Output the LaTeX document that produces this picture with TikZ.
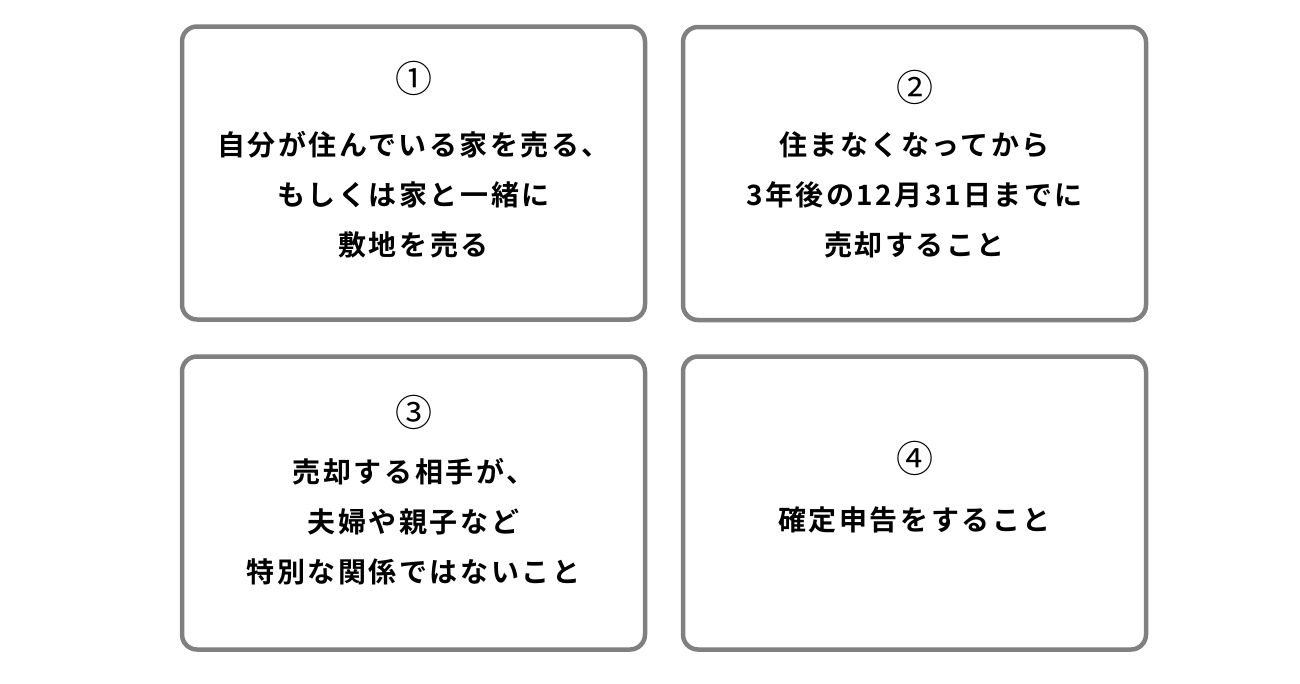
\documentclass[tikz,border=0pt]{standalone}
\usepackage{fontspec}
\newfontfamily\jpbold{Noto Sans CJK JP Bold}[LetterSpace=9]
\newfontfamily\jpnum{Noto Sans CJK JP}

\begin{document}
\begin{tikzpicture}[x=1pt, y=-1pt,
    card/.style={draw=black!50, line width=4.5pt, rounded corners=15pt,
        fill=white, minimum width=463pt, minimum height=293pt, inner sep=0pt},
    num/.style={inner sep=0pt, font=\jpnum\fontsize{37}{37}\selectfont},
    words/.style={inner sep=0pt, align=center, font=\jpbold\fontsize{28}{50}\selectfont}]
\useasboundingbox (0, 0) rectangle (1300, 683);

    % the four cards
    \node[card] (card1) at (413.5, 173) {};
    \node[card] (card2) at (914.5, 173.5) {};
    \node[card] (card3) at (413.5, 503) {};
    \node[card] (card4) at (914.5, 503) {};

    % numbers
    \node[num] (num1) at (413.5, 78) {①};
    \node[num] (num2) at (914.5, 87) {②};
    \node[num] (num3) at (413.5, 412) {③};
    \node[num] (num4) at (914.5, 458) {④};

    % conditions
    \node[words] (text1) at (413.5, 195) {自分が住んでいる家を売る、\\もしくは家と一緒に\\敷地を売る};
    \node[words] (text2) at (914.5, 195) {住まなくなってから\\3年後の12月31日までに\\売却すること};
    \node[words] (text3) at (413.5, 522) {売却する相手が、\\夫婦や親子など\\特別な関係ではないこと};
    \node[words] (text4) at (914.5, 520) {確定申告をすること};
\end{tikzpicture}
\end{document}
